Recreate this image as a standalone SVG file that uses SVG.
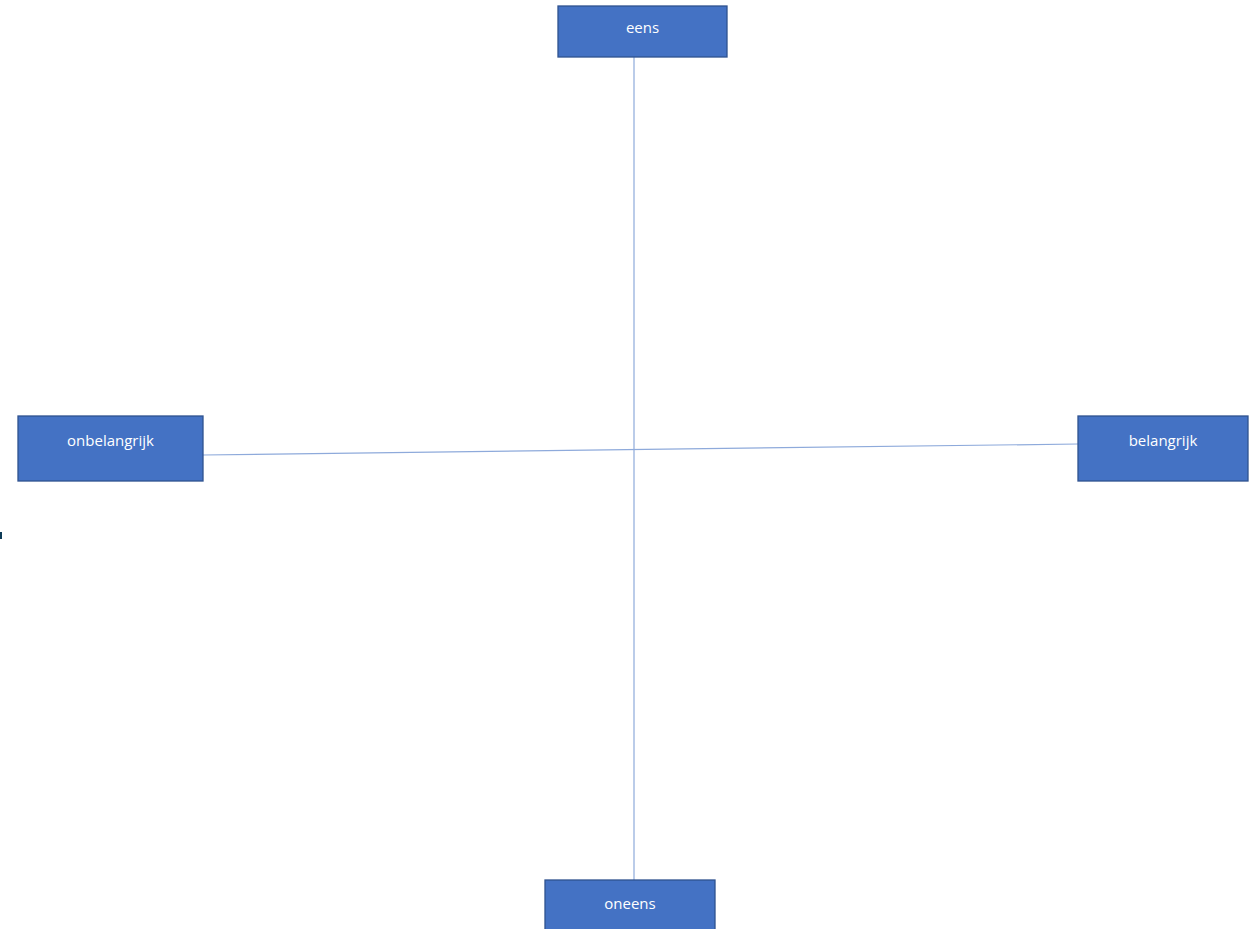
<svg xmlns="http://www.w3.org/2000/svg" width="1256" height="929" viewBox="0 0 1256 929">
<style>
.box{fill:#4472c4;stroke:#2f528f;stroke-width:1.3}
.lbl{fill:#ffffff;font-family:"Open Sans","Liberation Sans",sans-serif;font-size:15px;text-anchor:middle}
.ln{stroke:#8eaadb;stroke-width:1.2;fill:none}
</style>
<rect width="1256" height="929" fill="#ffffff"/>
<g id="connectors">
<line class="ln" x1="634" y1="57" x2="634" y2="880"/>
<line class="ln" x1="203" y1="455" x2="1078" y2="444"/>
</g>
<g id="node-eens"><rect class="box" x="558" y="6" width="169" height="51"/><text class="lbl" x="642.5" y="33">eens</text></g>
<g id="node-onbelangrijk"><rect class="box" x="18" y="416" width="185" height="65"/><text class="lbl" x="110.5" y="446">onbelangrijk</text></g>
<g id="node-belangrijk"><rect class="box" x="1078" y="416" width="170" height="65"/><text class="lbl" x="1163" y="446">belangrijk</text></g>
<g id="node-oneens"><rect class="box" x="545" y="880" width="170" height="55"/><text class="lbl" x="630" y="909">oneens</text></g>
<rect x="0" y="532" width="2" height="7" fill="#0d3b57"/>
</svg>
